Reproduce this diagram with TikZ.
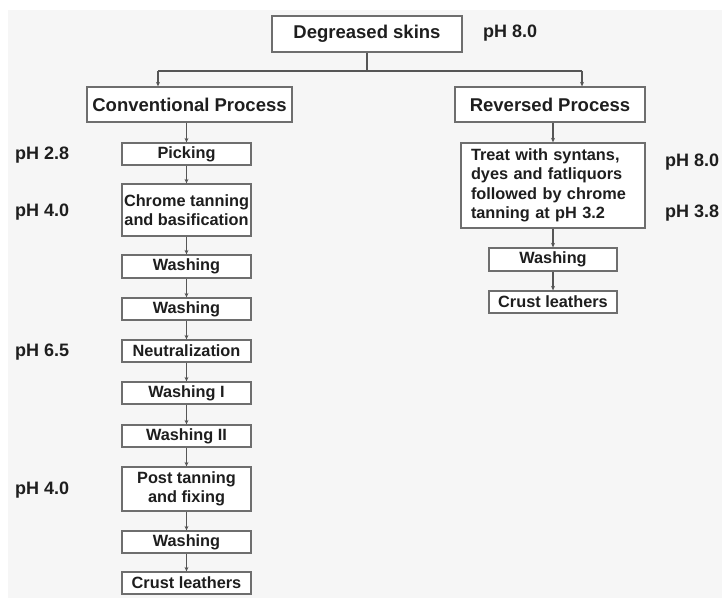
\documentclass[tikz,border=0pt]{standalone}
\usepackage{fontspec}
\setmainfont{Liberation Sans}
\usetikzlibrary{arrows.meta}
\definecolor{bggray}{HTML}{F6F6F6}
\definecolor{boxline}{HTML}{6E6E6E}
\definecolor{inkgray}{HTML}{1E1E1E}
\tikzset{
  box/.style={draw=boxline,line width=1.3pt,fill=white,inner sep=0pt,align=center,
    text=inkgray,font=\fontsize{16.3}{19.5}\selectfont\bfseries},
  bigbox/.style={box,font=\fontsize{18.5}{22}\selectfont\bfseries},
  phlabel/.style={anchor=west,inner sep=0pt,text=inkgray,font=\fontsize{18}{22}\selectfont\bfseries},
  arr/.style={draw=inkgray!75,line width=1.1pt,-{Stealth[length=4.5pt,width=4pt]}},
  ln/.style={draw=inkgray!75,line width=1.1pt}
}
\begin{document}
\begin{tikzpicture}[x=1pt,y=-1pt]
            \useasboundingbox (0,0) rectangle (722,599);
            \fill[white] (0,0) rectangle (722,599);
            \fill[bggray] (8,10) rectangle (722,598);
            % top
            \node[bigbox,minimum width=190pt,minimum height=36pt] (deg) at (367,34) {Degreased skins};
            \node[phlabel] (ph0) at (483,33) {pH 8.0};
            \node[bigbox,minimum width=205pt,minimum height=35pt] (conv) at (189.5,104.5) {Conventional Process};
            \node[bigbox,minimum width=190pt,minimum height=35pt] (rev) at (550,104.5) {Reversed Process};
            \coordinate (bl) at (158,71);
            \coordinate (br) at (582,71);
            \draw[ln] (deg.south) -- (deg.south |- bl);
            \draw[ln] (bl) -- (br);
            \draw[arr] (bl) -- (bl |- conv.north);
            \draw[arr] (br) -- (br |- rev.north);
            % conventional column
            \node[box,minimum width=129pt,minimum height=22pt] (pick) at (186.5,154) {Picking};
            \node[box,minimum width=129pt,minimum height=52pt] (chrome) at (186.5,210) {Chrome tanning\\and basification};
            \node[box,minimum width=129pt,minimum height=23pt] (washa) at (186.5,266.5) {Washing};
            \node[box,minimum width=129pt,minimum height=22pt] (washb) at (186.5,309) {Washing};
            \node[box,minimum width=129pt,minimum height=22pt] (neut) at (186.5,351) {Neutralization};
            \node[box,minimum width=129pt,minimum height=22pt] (washc) at (186.5,393) {Washing I};
            \node[box,minimum width=129pt,minimum height=22pt] (washd) at (186.5,436) {Washing II};
            \node[box,minimum width=129pt,minimum height=44pt] (post) at (186.5,489) {Post tanning\\and fixing};
            \node[box,minimum width=129pt,minimum height=22pt] (washe) at (186.5,542) {Washing};
            \node[box,minimum width=129pt,minimum height=22pt] (crustl) at (186.5,583) {Crust leathers};
            \draw[arr] (pick.north |- conv.south) -- (pick.north);
            \foreach \a/\b in {pick/chrome,chrome/washa,washa/washb,washb/neut,neut/washc,washc/washd,washd/post,post/washe,washe/crustl}
                \draw[arr] (\a) -- (\b);
            \node[phlabel] (ph1) at (15,155) {pH 2.8};
            \node[phlabel] (ph2) at (15,212) {pH 4.0};
            \node[phlabel] (ph3) at (15,352) {pH 6.5};
            \node[phlabel] (ph4) at (15,490) {pH 4.0};
            % reversed column
            \node[box,align=left,text width=164pt,inner xsep=10pt,minimum height=85pt] (treat) at (553,185.5)
                {Treat with syntans,\\dyes and fatliquors\\followed by chrome\\tanning at pH 3.2};
            \node[box,minimum width=128pt,minimum height=23pt] (washr) at (553,259.5) {Washing};
            \node[box,minimum width=128pt,minimum height=22pt] (crustr) at (553,302) {Crust leathers};
            \draw[arr] (treat.north |- rev.south) -- (treat.north);
            \foreach \a/\b in {treat/washr,washr/crustr}
                \draw[arr] (\a) -- (\b);
            \node[phlabel] (ph5) at (665,162) {pH 8.0};
            \node[phlabel] (ph6) at (665,213) {pH 3.8};
        \end{tikzpicture}
\end{document}
